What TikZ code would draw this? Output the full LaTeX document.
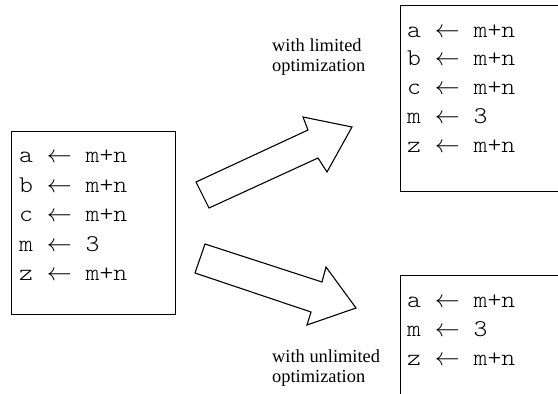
\documentclass[tikz,border=0pt]{standalone}
\usepackage{fontspec}
\setmainfont{Liberation Serif}
% light serifed typewriter face, widened to a Courier-like pitch
\newfontfamily\codefont{lmmonolt10-regular.otf}[FakeStretch=1.1]
% assignment arrow taken from the math fonts
\newcommand\assignarrow{\(\leftarrow\)}
\begin{document}
\begin{tikzpicture}[x=1pt,y=-1pt,
  box/.style={draw, line width=1.3pt, anchor=north west, inner sep=0pt},
  codeline/.style={anchor=base west, inner sep=0pt,
    font=\codefont\fontsize{24}{29}\selectfont},
  caption/.style={anchor=base west, inner sep=0pt,
    font=\fontsize{18.4}{20}\selectfont},
  blockarrow/.style={draw, line width=1.1pt, line join=miter, fill=white}]
\useasboundingbox (0,0) rectangle (558,394);
\clip (0,0) rectangle (558,394);

% original program
\node[box, minimum width=164pt, minimum height=183pt] (src) at (11,130.5) {};
\foreach \v/\e [count=\i] in {a/m+n,b/m+n,c/m+n,m/3,z/m+n}
  \node[codeline] (src-\i) at (19,{162.5+29.6*(\i-1)}) {\v~\assignarrow~\e};

% result with limited optimization
\node[box, minimum width=200pt, minimum height=186pt] (lim) at (400,5) {};
\foreach \v/\e [count=\i] in {a/m+n,b/m+n,c/m+n,m/3,z/m+n}
  \node[codeline] (lim-\i) at (407,{37+28.75*(\i-1)}) {\v~\assignarrow~\e};

% result with unlimited optimization
\node[box, minimum width=200pt, minimum height=150pt] (unl) at (400,275) {};
\foreach \v/\e [count=\i] in {a/m+n,m/3,z/m+n}
  \node[codeline] (unl-\i) at (407,{307+29*(\i-1)}) {\v~\assignarrow~\e};

% block arrows
\draw[blockarrow] (196,182) -- (308,130) -- (303,117) -- (352,127)
  -- (327,172) -- (318,158) -- (209,208) -- cycle;
\draw[blockarrow] (205,244) -- (322,282) -- (326,267) -- (356,308)
  -- (307,325) -- (311,312) -- (195,273) -- cycle;

% captions
\node[caption] (cap-lim-1) at (272,51) {with limited};
\node[caption] (cap-lim-2) at (272,71) {optimization};
\node[caption] (cap-unl-1) at (272,362) {with unlimited};
\node[caption] (cap-unl-2) at (272,382) {optimization};
\end{tikzpicture}
\end{document}
